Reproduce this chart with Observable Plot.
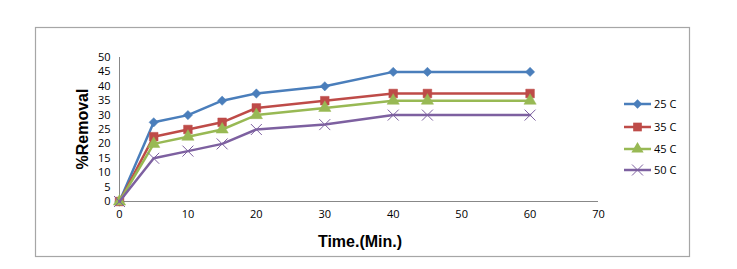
<!DOCTYPE html>
<html><head><meta charset="utf-8">
<script src="https://cdn.jsdelivr.net/npm/d3@7"></script>
<script src="https://cdn.jsdelivr.net/npm/@observablehq/plot@0.6"></script>
<style>body{margin:0;background:#fff;} svg{display:block;}</style>
</head><body><div id="chart"></div>
<script>
const times = [0, 5, 10, 15, 20, 30, 40, 45, 60];
const series = ["25 C", "35 C", "45 C", "50 C"];
const values25 = [0, 27.5, 30, 35, 37.5, 40, 45, 45, 45];
const values35 = [0, 22.5, 25, 27.5, 32.5, 35, 37.5, 37.5, 37.5];
const values45 = [0, 20, 22.5, 25, 30, 32.5, 35, 35, 35];
const values50 = [0, 15, 17.5, 20, 25, 26.7, 30, 30, 30];
const xTicks = [0, 10, 20, 30, 40, 50, 60, 70];
const yTicks = [0, 5, 10, 15, 20, 25, 30, 35, 40, 45, 50];
const colors = ["#4a7ebb", "#be4b48", "#98b954", "#7d60a0"];
const symbols = ["diamond2", "square", "triangle", "times"];
const symSizes = [55, 75, 65, 80];

const allVals = [values25, values35, values45, values50];
const data = [];
series.forEach((s, i) => times.forEach((t, j) => data.push({series: s, time: t, value: allVals[i][j]})));

const marks = [
  Plot.ruleY([0], {stroke: "#888", strokeWidth: 1}),
  Plot.ruleX([0], {stroke: "#888", strokeWidth: 1}),
  Plot.axisX({ticks: xTicks, tickSize: 0, tickPadding: 9, fontSize: 11, label: null}),
  Plot.axisY({ticks: yTicks, tickSize: 0, tickPadding: 9, fontSize: 11, label: null}),
];
series.forEach((s, i) => {
  const d = data.filter(r => r.series === s);
  marks.push(Plot.line(d, {x: "time", y: "value", stroke: colors[i], strokeWidth: 2.5}));
  if (symbols[i] === "times") {
    marks.push(Plot.dot(d, {x: "time", y: "value", symbol: "times", stroke: colors[i], strokeWidth: 1, r: Math.sqrt(symSizes[i] / Math.PI), fill: "none"}));
  } else {
    marks.push(Plot.dot(d, {x: "time", y: "value", symbol: symbols[i], fill: colors[i], stroke: colors[i], strokeWidth: 0.5, r: Math.sqrt(symSizes[i] / Math.PI)}));
  }
});

const chart = Plot.plot({
  width: 737, height: 269,
  marginLeft: 119, marginRight: 139, marginTop: 57, marginBottom: 68,
  style: {fontFamily: "'Open Sans', sans-serif", color: "#000", background: "#fff"},
  x: {domain: [0, 70]},
  y: {domain: [0, 50]},
  symbol: {domain: symbols, range: symbols},
  marks
});
const svg = d3.select(chart);
// outer frame
svg.insert("rect", ":first-child").attr("x", 35.5).attr("y", 27.5).attr("width", 654).attr("height", 229)
  .attr("fill", "none").attr("stroke", "#a6a6a6").attr("stroke-width", 1.2);
// axis titles
svg.append("text").attr("x", 360).attr("y", 247).attr("text-anchor", "middle")
  .attr("font-family", "'Liberation Sans', Arial, sans-serif").attr("font-weight", "bold").attr("font-size", 16).text("Time.(Min.)");
svg.append("text").attr("transform", "translate(88,129) rotate(-90)").attr("text-anchor", "middle")
  .attr("font-family", "'Liberation Sans', Arial, sans-serif").attr("font-weight", "bold").attr("font-size", 16).text("%Removal");
// legend
const legY = [104, 127, 149, 170];
series.forEach((s, i) => {
  const g = svg.append("g").attr("transform", `translate(624,${legY[i]})`);
  g.append("line").attr("x1", 0).attr("x2", 27).attr("stroke", colors[i]).attr("stroke-width", 2.5);
  const sym = {diamond2: d3.symbolDiamond2, square: d3.symbolSquare, triangle: d3.symbolTriangle, times: d3.symbolTimes}[symbols[i]];
  const p = g.append("path").attr("transform", "translate(13.5,0)").attr("d", d3.symbol(sym, symSizes[i])());
  if (symbols[i] === "times") p.attr("fill", "none").attr("stroke", colors[i]).attr("stroke-width", 1);
  else p.attr("fill", colors[i]);
  g.append("text").attr("x", 30).attr("y", 4).attr("text-anchor", "start").attr("font-size", 11).attr("font-family", "'Open Sans', sans-serif").text(s);
});
document.getElementById("chart").appendChild(chart);
</script>
</body></html>
